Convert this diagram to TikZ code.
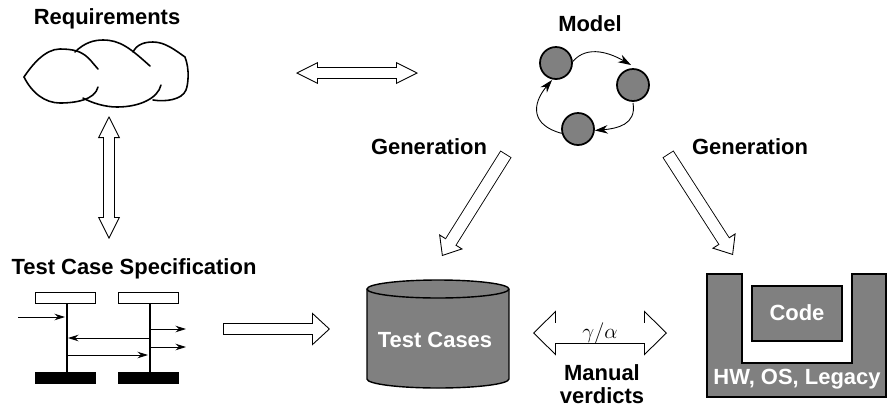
\documentclass[tikz,border=0pt]{standalone}
\usepackage{fontspec}
\setmainfont{Liberation Sans}
\usepackage{tikz}
\usetikzlibrary{arrows.meta}

\tikzset{
	title/.style={font=\fontsize{12.5}{15}\selectfont\bfseries},
	onGray/.style={title,text=white},
	grayBox/.style={shape=rectangle,draw=black,fill=gray,line width=0.7pt,inner sep=0pt},
	state/.style={shape=circle,draw=black,fill=gray,line width=1pt,inner sep=0pt,minimum size=0.64cm},
	msc/.style={shape=rectangle,draw=black,inner sep=0pt,minimum width=1.2cm,minimum height=0.22cm},
	message/.style={line width=0.5pt,-{Stealth[length=0.21cm,width=0.13cm]}},
	loopArrow/.style={line width=0.5pt,-{Stealth[length=0.26cm,width=0.17cm]}},
	lobe/.style={line width=0.9pt,line cap=round},
	oneWay/.style n args={3}{draw=white,line width=#1-1pt,shorten >=#3-1pt,shorten <=0.5pt,
		preaction={draw=black,line width=0.5pt,shorten >=0pt,shorten <=0pt,-{Triangle[open,fill=white,width=#2,length=#3]}},
		preaction={draw=black,line width=#1,shorten >=#3,shorten <=0pt}},
	twoWay/.style n args={3}{draw=white,line width=#1-1pt,shorten >=#3-1pt,shorten <=#3-1pt,
		preaction={draw=black,line width=0.5pt,shorten >=0pt,shorten <=0pt,{Triangle[open,fill=white,width=#2,length=#3]}-{Triangle[open,fill=white,width=#2,length=#3]}},
		preaction={draw=black,line width=#1,shorten >=#3,shorten <=#3}},
}

\begin{document}
\begin{tikzpicture}[x=0.02cm,y=-0.02cm]
	\useasboundingbox (0,0) rectangle (894,407);

	% requirements
	\node[title] (requirements) at (107,19) {Requirements};
	\draw[lobe] (98,69) .. controls (88,58) and (85,49) .. (60,49) .. controls (45,49) and (32,65) .. (24,77) .. controls (32,93) and (45,103) .. (60,103) .. controls (75,103) and (95,100) .. (98,87);
	\draw[lobe] (75,52) .. controls (85,42) and (95,40) .. (103,40) .. controls (120,40) and (130,48) .. (150,66);
	\draw[lobe] (133,52) .. controls (137,44) and (145,42) .. (153,42) .. controls (165,42) and (175,50) .. (185,57) .. controls (190,70) and (188,85) .. (186,90) .. controls (182,100) and (165,102) .. (153,100);
	\draw[lobe] (161,85) .. controls (158,98) and (140,107) .. (117,107) .. controls (105,107) and (92,103) .. (83,98);

	% model
	\node[title] (model) at (590,24) {Model};
	\node[state] (m1) at (556,63) {};
	\node[state] (m2) at (633,85) {};
	\node[state] (m3) at (578,129) {};
	\draw[loopArrow] (m1.5) to[out=50,in=150] (631,65);
	\draw[loopArrow] (633,103) to[out=-80,in=5,looseness=1.2] (m3.-5);
	\draw[loopArrow] (m3.195) to[out=165,in=-130,looseness=1.5] (552,80);

	% test case specification
	\node[title] (spec) at (134,269) {Test Case Specification};
	\node[msc] (boxA) at (65,297.5) {};
	\node[msc] (boxB) at (148,297.5) {};
	\node[msc,fill=black] (barA) at (65,378) {};
	\node[msc,fill=black] (barB) at (148,378) {};
	\coordinate (lineA) at (67,303);
	\coordinate (endA) at (67,372);
	\coordinate (lineB) at (150,303);
	\coordinate (endB) at (150,372);
	\path[-, line width=0.6pt] (lineA) edge (endA);
	\path[-, line width=0.6pt] (lineB) edge (endB);
	\coordinate (inS) at (18,317);
	\coordinate (inE) at (65,317);
	\coordinate (outA) at (150,329);
	\coordinate (outAE) at (186,329);
	\coordinate (outB) at (150,347);
	\coordinate (outBE) at (186,347);
	\coordinate (backS) at (150,338);
	\coordinate (backE) at (68,338);
	\coordinate (forthS) at (67,355);
	\coordinate (forthE) at (148,355);
	\draw[message] (inS) -- (inE);
	\draw[message] (outA) -- (outAE);
	\draw[message] (outB) -- (outBE);
	\draw[message] (backS) -- (backE);
	\draw[message] (forthS) -- (forthE);

	% test cases
	\draw[fill=gray,line width=0.8pt] (367,289) -- (367,379) arc[x radius=1.42cm,y radius=0.18cm,start angle=180,end angle=360] -- (509,289) arc[x radius=1.42cm,y radius=0.18cm,start angle=0,end angle=180] -- cycle;
	\draw[line width=0.8pt] (367,289) arc[x radius=1.42cm,y radius=0.18cm,start angle=180,end angle=360];
	\node[onGray] (cases) at (435,340) {Test Cases};

	% hardware
	\draw[grayBox] (707,274) -- (742,274) -- (742,363) -- (852,363) -- (852,274) -- (886,274) -- (886,397) -- (707,397) -- cycle;
	\node[grayBox,minimum width=1.8cm,minimum height=1.1cm] (code) at (797,313.5) {};
	\node[onGray] (codeText) at (797,313) {Code};
	\node[onGray] (hw) at (797,379) {HW, OS, Legacy};

	% labels
	\node[title] (genA) at (429,147) {Generation};
	\node[title] (genB) at (750,147) {Generation};
	\node[title,align=center] (verdicts) at (602,384) {Manual\\[-2pt]verdicts};

	% block arrows
	\coordinate (reqR) at (296,73);
	\coordinate (modL) at (418,73);
	\coordinate (reqB) at (109,116);
	\coordinate (specT) at (109,239);
	\coordinate (specR) at (223,329);
	\coordinate (casesL) at (330,329);
	\coordinate (modA) at (506,154);
	\coordinate (casesT) at (442,256);
	\coordinate (modB) at (668,154);
	\coordinate (hwT) at (733,255);
	\coordinate (casesE) at (533,333);
	\coordinate (hwW) at (667,333);
	\draw[twoWay={0.24cm}{0.44cm}{0.44cm}] (reqR) -- (modL);
	\draw[twoWay={0.24cm}{0.44cm}{0.44cm}] (reqB) -- (specT);
	\draw[oneWay={0.24cm}{0.66cm}{0.36cm}] (specR) -- (casesL);
	\draw[oneWay={0.26cm}{0.56cm}{0.34cm}] (modA) -- (casesT);
	\draw[oneWay={0.26cm}{0.56cm}{0.34cm}] (modB) -- (hwT);
	\draw[twoWay={0.42cm}{0.9cm}{0.46cm}] (casesE) -- node[font=\fontsize{12}{14}\selectfont] (ratio) {$\gamma/\alpha$} (hwW);

\end{tikzpicture}
\end{document}
